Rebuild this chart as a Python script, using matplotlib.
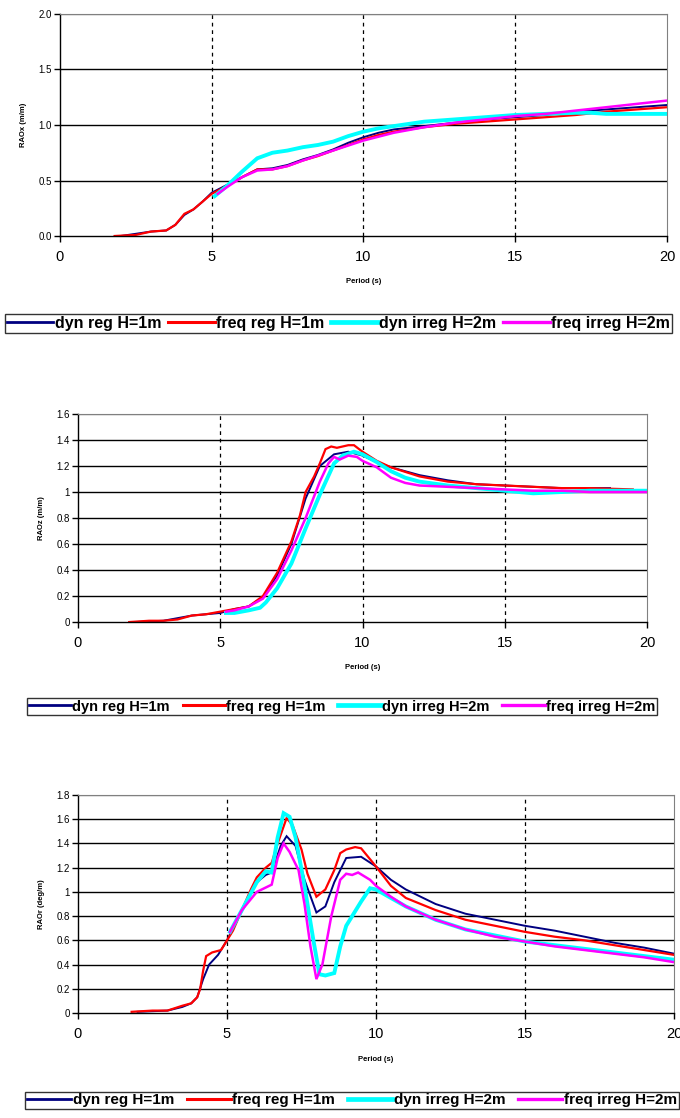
import matplotlib
matplotlib.use("Agg")
import matplotlib.pyplot as plt
from matplotlib import font_manager

# series labels / colours / widths (same in all three panels)
LABELS = ["dyn reg H=1m", "freq reg H=1m", "dyn irreg H=2m", "freq irreg H=2m"]
COLORS = ["#000080", "#ff0000", "#00ffff", "#ff00ff"]
WIDTHS = [1.4, 1.6, 2.8, 1.8]

# ---- surge RAO (m/m) ----
surge_dyn_reg_t = [2.0, 2.5, 3.0, 3.5, 3.8, 4.1, 4.4, 4.7, 5.0, 5.5, 6.0, 6.5, 7.0, 7.5, 8.0, 8.5, 9.0,
                   9.5, 10.0, 10.5, 11.0, 12.0, 13.0, 14.0, 15.0, 16.0, 17.0, 18.0, 19.0, 20.0]
surge_dyn_reg = [0.0, 0.02, 0.04, 0.05, 0.10, 0.19, 0.24, 0.31, 0.39, 0.46, 0.53, 0.60, 0.61, 0.64, 0.69,
                 0.73, 0.78, 0.84, 0.89, 0.93, 0.96, 0.99, 1.02, 1.05, 1.07, 1.09, 1.12, 1.14, 1.16, 1.18]
surge_freq_reg_t = [1.8, 2.5, 3.0, 3.5, 3.8, 4.1, 4.4, 4.7, 5.0, 5.5, 6.0, 6.5, 7.0, 7.5, 8.0, 8.5, 9.0,
                    9.5, 10.0, 10.5, 11.0, 12.0, 13.0, 14.0, 15.0, 16.0, 17.0, 18.0, 19.0, 20.0]
surge_freq_reg = [0.0, 0.01, 0.04, 0.05, 0.10, 0.20, 0.24, 0.31, 0.38, 0.45, 0.53, 0.60, 0.60, 0.63, 0.68,
                  0.72, 0.77, 0.82, 0.87, 0.91, 0.94, 0.98, 1.01, 1.03, 1.05, 1.07, 1.09, 1.12, 1.14, 1.16]
surge_dyn_irreg_t = [5.1, 5.5, 6.0, 6.5, 7.0, 7.5, 8.0, 8.5, 9.0, 9.5, 10.0, 10.5, 11.0, 12.0, 13.0, 14.0,
                     15.0, 16.0, 17.0, 17.5, 18.0, 19.0, 20.0]
surge_dyn_irreg = [0.36, 0.45, 0.58, 0.70, 0.75, 0.77, 0.80, 0.82, 0.85, 0.90, 0.94, 0.97, 0.99, 1.03, 1.05,
                   1.07, 1.09, 1.10, 1.11, 1.11, 1.10, 1.10, 1.10]
surge_freq_irreg_t = [5.2, 5.5, 6.0, 6.5, 7.0, 7.5, 8.0, 9.0, 10.0, 11.0, 12.0, 13.0, 14.0, 15.0, 16.0, 17.0,
                      18.0, 19.0, 20.0]
surge_freq_irreg = [0.38, 0.44, 0.53, 0.59, 0.60, 0.63, 0.68, 0.77, 0.86, 0.93, 0.98, 1.02, 1.05, 1.08, 1.10,
                    1.13, 1.16, 1.19, 1.22]

# ---- heave RAO (m/m) ----
heave_dyn_reg_t = [2.0, 3.0, 4.0, 5.0, 5.5, 6.0, 6.5, 7.0, 7.5, 8.0, 8.5, 9.0, 9.5, 10.0, 10.5, 11.0, 12.0,
                   13.0, 14.0, 15.0, 16.0, 17.0, 18.7]
heave_dyn_reg = [0.0, 0.01, 0.05, 0.07, 0.10, 0.12, 0.19, 0.36, 0.60, 0.95, 1.20, 1.29, 1.31, 1.28, 1.23,
                 1.19, 1.13, 1.09, 1.06, 1.05, 1.04, 1.03, 1.03]
heave_freq_reg_t = [1.8, 2.5, 3.0, 3.5, 4.0, 4.5, 5.0, 5.5, 6.0, 6.5, 7.0, 7.5, 7.8, 8.0, 8.3, 8.5, 8.7,
                    8.9, 9.1, 9.5, 9.7, 10.0, 10.5, 11.0, 12.0, 13.0, 14.0, 15.0, 16.0, 17.0, 18.0, 19.5]
heave_freq_reg = [0.0, 0.01, 0.01, 0.02, 0.05, 0.06, 0.08, 0.10, 0.12, 0.20, 0.38, 0.62, 0.82, 1.00, 1.12,
                  1.22, 1.33, 1.35, 1.34, 1.36, 1.36, 1.31, 1.24, 1.19, 1.12, 1.08, 1.06, 1.05, 1.04, 1.03,
                  1.03, 1.02]
heave_dyn_irreg_t = [5.2, 5.5, 6.0, 6.4, 6.6, 7.0, 7.5, 8.0, 8.5, 9.0, 9.3, 9.7, 10.0, 10.5, 11.0, 11.5,
                     12.0, 13.0, 14.0, 15.0, 15.5, 16.0, 17.0, 18.0, 19.0, 20.0]
heave_dyn_irreg = [0.07, 0.07, 0.09, 0.11, 0.15, 0.26, 0.45, 0.72, 0.98, 1.22, 1.28, 1.31, 1.29, 1.23, 1.16,
                   1.11, 1.08, 1.05, 1.03, 1.01, 1.00, 0.99, 1.00, 1.01, 1.01, 1.01]
heave_freq_irreg_t = [5.2, 5.5, 6.0, 6.5, 7.0, 7.5, 8.0, 8.5, 8.8, 9.0, 9.2, 9.5, 9.8, 10.0, 10.5, 11.0, 11.5,
                      12.0, 13.0, 14.0, 15.0, 16.0, 17.0, 18.0, 19.0, 20.0]
heave_freq_irreg = [0.08, 0.09, 0.12, 0.18, 0.33, 0.55, 0.80, 1.08, 1.22, 1.27, 1.25, 1.28, 1.27, 1.24, 1.19,
                    1.11, 1.07, 1.05, 1.04, 1.03, 1.02, 1.01, 1.01, 1.00, 1.00, 1.00]

# ---- pitch RAO (deg/m) ----
pitch_dyn_reg_t = [2.0, 3.0, 3.5, 3.8, 4.0, 4.2, 4.4, 4.7, 5.0, 5.5, 6.0, 6.3, 6.5, 6.8, 7.0, 7.3, 7.6, 8.0,
                   8.3, 8.6, 9.0, 9.5, 10.0, 10.5, 11.0, 12.0, 13.0, 14.0, 15.0, 16.0, 17.0, 18.0, 19.0, 20.0]
pitch_dyn_reg = [0.01, 0.02, 0.05, 0.08, 0.13, 0.28, 0.40, 0.48, 0.60, 0.85, 1.08, 1.14, 1.16, 1.38, 1.46,
                 1.38, 1.10, 0.83, 0.88, 1.08, 1.28, 1.29, 1.21, 1.10, 1.02, 0.90, 0.82, 0.77, 0.72, 0.68,
                 0.63, 0.58, 0.54, 0.49]
pitch_freq_reg_t = [1.8, 2.5, 3.0, 3.5, 3.8, 4.0, 4.1, 4.2, 4.3, 4.5, 4.8, 5.0, 5.2, 5.5, 5.8, 6.0, 6.3, 6.5,
                    6.7, 7.0, 7.2, 7.5, 7.7, 8.0, 8.3, 8.6, 8.8, 9.0, 9.3, 9.5, 10.0, 10.5, 11.0, 12.0, 13.0,
                    14.0, 15.0, 16.0, 17.0, 18.0, 19.0, 20.0]
pitch_freq_reg = [0.01, 0.02, 0.02, 0.06, 0.08, 0.13, 0.20, 0.35, 0.47, 0.50, 0.52, 0.60, 0.68, 0.85, 1.02,
                  1.12, 1.20, 1.24, 1.40, 1.61, 1.55, 1.35, 1.15, 0.96, 1.02, 1.18, 1.32, 1.35, 1.37, 1.36,
                  1.21, 1.05, 0.95, 0.85, 0.77, 0.72, 0.67, 0.63, 0.60, 0.56, 0.52, 0.48]
pitch_dyn_irreg_t = [5.1, 5.5, 6.0, 6.3, 6.5, 6.7, 6.9, 7.1, 7.3, 7.6, 7.9, 8.1, 8.3, 8.6, 8.8, 9.0, 9.5,
                     9.8, 10.0, 10.5, 11.0, 12.0, 13.0, 14.0, 15.0, 16.0, 17.0, 18.0, 19.0, 20.0]
pitch_dyn_irreg = [0.67, 0.85, 1.08, 1.17, 1.16, 1.45, 1.65, 1.62, 1.45, 1.05, 0.60, 0.32, 0.31, 0.33, 0.55,
                   0.72, 0.92, 1.03, 1.02, 0.95, 0.88, 0.77, 0.69, 0.64, 0.59, 0.56, 0.53, 0.50, 0.47, 0.44]
pitch_freq_irreg_t = [5.1, 5.5, 6.0, 6.5, 6.7, 6.9, 7.1, 7.4, 7.6, 7.8, 8.0, 8.2, 8.5, 8.8, 9.0, 9.2, 9.4,
                      9.8, 10.0, 10.5, 11.0, 12.0, 13.0, 14.0, 15.0, 16.0, 17.0, 18.0, 19.0, 20.0]
pitch_freq_irreg = [0.67, 0.85, 1.00, 1.06, 1.28, 1.40, 1.33, 1.18, 0.90, 0.55, 0.28, 0.40, 0.80, 1.10, 1.15,
                    1.14, 1.16, 1.10, 1.05, 0.96, 0.88, 0.77, 0.69, 0.63, 0.59, 0.55, 0.52, 0.49, 0.46, 0.42]

PANELS = [
    {
        "series": [(surge_dyn_reg_t, surge_dyn_reg), (surge_freq_reg_t, surge_freq_reg),
                   (surge_dyn_irreg_t, surge_dyn_irreg), (surge_freq_irreg_t, surge_freq_irreg)],
        "ylabel": "RAOx (m/m)", "ymax": 2.0, "ystep": 0.5, "yfmt": "{:.1f}",
        "ax_rect": [0.0882, 0.7889, 0.8926, 0.1986],
        "leg_rect": [0.0074, 0.7005, 0.981, 0.021],
        "leg_size": 11.5,
        "xlabel_y": 0.748,
    },
    {
        "series": [(heave_dyn_reg_t, heave_dyn_reg), (heave_freq_reg_t, heave_freq_reg),
                   (heave_dyn_irreg_t, heave_dyn_irreg), (heave_freq_irreg_t, heave_freq_irreg)],
        "ylabel": "RAOz (m/m)", "ymax": 1.6, "ystep": 0.2, "yfmt": "{:g}",
        "ax_rect": [0.1147, 0.4436, 0.8368, 0.1861],
        "leg_rect": [0.0397, 0.3560, 0.9265, 0.024],
        "leg_size": 10.5,
        "xlabel_y": 0.403,
    },
    {
        "series": [(pitch_dyn_reg_t, pitch_dyn_reg), (pitch_freq_reg_t, pitch_freq_reg),
                   (pitch_dyn_irreg_t, pitch_dyn_irreg), (pitch_freq_irreg_t, pitch_freq_irreg)],
        "ylabel": "RAOr (deg/m)", "ymax": 1.8, "ystep": 0.2, "yfmt": "{:g}",
        "ax_rect": [0.1147, 0.0939, 0.8765, 0.195],
        "leg_rect": [0.0368, 0.0055, 0.961, 0.0205],
        "leg_size": 11.0,
        "xlabel_y": 0.052,
    },
]

installed = {f.name for f in font_manager.fontManager.ttflist}
LEG_FONT = "Liberation Sans Narrow" if "Liberation Sans Narrow" in installed else "Liberation Sans"
plt.rcParams["font.family"] = ["Liberation Sans", "DejaVu Sans"]

fig = plt.figure(figsize=(6.8, 11.18), dpi=100)

for panel in PANELS:
    ax = fig.add_axes(panel["ax_rect"])
    handles = []
    for (t, r), lab, col, lw in zip(panel["series"], LABELS, COLORS, WIDTHS):
        (h,) = ax.plot(t, r, color=col, lw=lw, label=lab, solid_joinstyle="miter")
        handles.append(h)

    ymax, ystep = panel["ymax"], panel["ystep"]
    yt = [round(i * ystep, 2) for i in range(int(round(ymax / ystep)) + 1)]
    ax.set_xlim(0, 20)
    ax.set_ylim(0, ymax)
    ax.set_xticks([0, 5, 10, 15, 20])
    ax.set_yticks(yt)
    ax.set_yticklabels([panel["yfmt"].format(v) for v in yt])

    # horizontal solid grid, vertical dashed at interior periods
    for v in yt[1:-1]:
        ax.axhline(v, color="black", lw=1.0, zorder=0.5)
    ax.axhline(ymax, color="#808080", lw=1.0, zorder=0.5)
    for v in [5, 10, 15]:
        ax.axvline(v, color="black", lw=0.9, ls=(0, (3, 3)), zorder=0.5)

    for s in ["top", "right"]:
        ax.spines[s].set_color("#808080")
    for s in ["left", "bottom"]:
        ax.spines[s].set_color("black")
        ax.spines[s].set_linewidth(1.0)

    ax.tick_params(axis="x", direction="out", length=4, width=1, labelsize=10.5, pad=6)
    ax.tick_params(axis="y", direction="out", length=4, width=1, labelsize=7, pad=2)

    ax.set_ylabel(panel["ylabel"], fontsize=5.5, fontweight="bold", labelpad=8)
    xc = panel["ax_rect"][0] + panel["ax_rect"][2] / 2
    fig.text(xc, panel["xlabel_y"], "Period (s)", fontsize=5.5, fontweight="bold",
             ha="center", va="center")

    leg = fig.legend(handles=handles, loc="center", bbox_to_anchor=panel["leg_rect"],
                     bbox_transform=fig.transFigure, ncol=4, mode="expand",
                     frameon=True, fancybox=False, edgecolor="black", handlelength=2.9,
                     handletextpad=0.1, columnspacing=0.3, borderpad=0.12, borderaxespad=0,
                     prop={"family": LEG_FONT, "weight": "bold", "size": panel["leg_size"]})
    leg.get_frame().set_linewidth(1.0)
    for line in leg.get_lines():
        line.set_linewidth(line.get_linewidth() + 0.6)

fig.savefig("out.png", dpi=100, facecolor="white")
